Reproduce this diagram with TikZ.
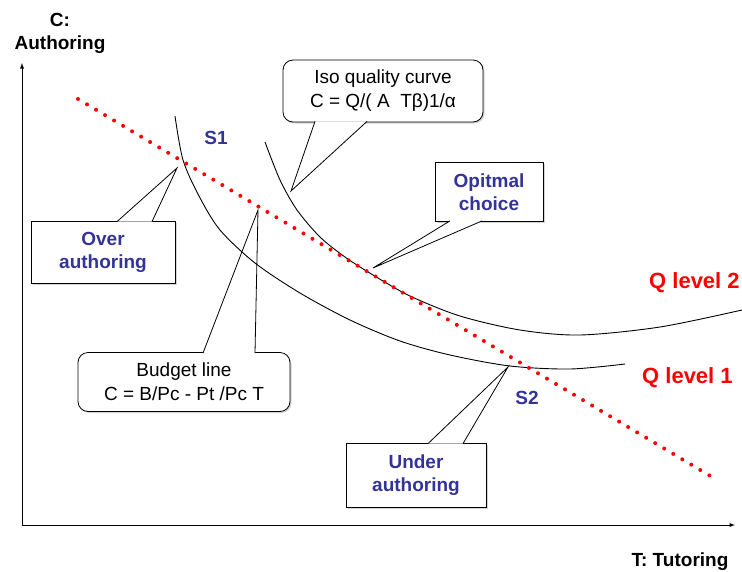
\documentclass[tikz,border=0pt]{standalone}
\usepackage{fontspec}
\setmainfont{Liberation Sans}
\usetikzlibrary{positioning, arrows.meta, calc, shadows}
\definecolor{labelblue}{RGB}{51,51,153}
\tikzset{
  axislabel/.style={font=\fontsize{19}{23}\selectfont\bfseries, align=center, inner sep=0pt},
  qlabel/.style={font=\fontsize{22}{26}\selectfont\bfseries, text=red, anchor=west, inner sep=0pt},
  slabel/.style={font=\fontsize{19}{23}\selectfont\bfseries, text=labelblue, inner sep=0pt},
  squarebox/.style={rectangle, draw=black, line width=0.8pt, fill=white, align=center, inner sep=0pt,
    font=\fontsize{19}{23}\selectfont\bfseries, text=labelblue,
    drop shadow={shadow xshift=1.5pt, shadow yshift=-1.5pt, opacity=0.35}},
  roundbox/.style={squarebox, rounded corners=10pt, font=\fontsize{19}{24}\selectfont, text=black},
  tail/.style={draw=black, line width=0.8pt, fill=white, line join=miter},
  isocurve/.style={line width=0.9pt},
  budgetdots/.style={red, line width=4pt, line cap=round, dash pattern=on 0pt off 10.5pt},
  axis/.style={line width=0.9pt, ->}
}

\begin{document}
\begin{tikzpicture}[x=1pt, y=-1pt, >=latex]
    \useasboundingbox (0,0) rectangle (742,571);

    % Cajas de texto
    \node[squarebox, minimum width=144pt, minimum height=62pt] (over) at (103,252) {Over\\authoring};
    \node[squarebox, minimum width=108pt, minimum height=59pt] (optimal) at (489,192) {Opitmal\\choice};
    \node[squarebox, minimum width=140pt, minimum height=64pt] (under) at (416,475) {Under\\authoring};
    \node[roundbox, minimum width=200pt, minimum height=62pt] (iso) at (383,91) {Iso quality curve\\C = Q/(~A~~Tβ)1/α};
    \node[roundbox, minimum width=212pt, minimum height=59pt] (budget) at (184,382) {Budget line\\C = B/Pc - Pt /Pc T};

    % Puntas de las llamadas
    \coordinate (overTip) at (177,168);
    \coordinate (optimalTip) at (373,268);
    \coordinate (underTip) at (508,367);
    \coordinate (isoTip) at (291,191);
    \coordinate (budgetTip) at (258,210);

    \draw[tail] ([xshift=14pt,yshift=-1pt]over.north) -- (overTip) -- ([xshift=49pt,yshift=-1pt]over.north);
    \draw[tail] ([xshift=-39pt,yshift=1pt]optimal.south) -- (optimalTip) -- ([xshift=-7pt,yshift=1pt]optimal.south);
    \draw[tail] ([xshift=12pt,yshift=-1pt]under.north) -- (underTip) -- ([xshift=47pt,yshift=-1pt]under.north);
    \draw[tail] ([xshift=-68pt,yshift=1pt]iso.south) -- (isoTip) -- ([xshift=-16pt,yshift=1pt]iso.south);
    \draw[tail] ([xshift=19pt,yshift=-1pt]budget.north) -- (budgetTip) -- ([xshift=71pt,yshift=-1pt]budget.north);

    % Curvas de isocalidad
    \draw[isocurve] plot[smooth] coordinates {(175,116) (183,160) (199,196) (220,230) (255,263) (300,293)
        (350,320) (400,341) (450,355) (510,366) (570,369) (625,364)};
    \draw[isocurve] plot[smooth] coordinates {(265,142) (280,180) (297,210) (320,237) (345,257) (373,275)
        (410,296) (460,316) (520,330) (580,335) (660,327) (742,310)};

    % Linea de presupuesto
    \coordinate (bStart) at (78,99);
    \coordinate (bEnd) at (712,477);
    \draw[budgetdots] (bStart) -- (bEnd);

    % Ejes
    \coordinate (O) at (22,525);
    \coordinate (yEnd) at (22,63);
    \coordinate (xEnd) at (735,525);
    \draw[axis] (O) -- (yEnd);
    \draw[axis] (O) -- (xEnd);

    % Etiquetas
    \node[axislabel] (cLabel) at (60,33) {C:\\Authoring};
    \node[axislabel] (tLabel) at (680,562) {T: Tutoring};
    \node[qlabel] (qTwo) at (649,283) {Q level 2};
    \node[qlabel] (qOne) at (642,378) {Q level 1};
    \node[slabel] (sOne) at (216,138) {S1};
    \node[slabel] (sTwo) at (527,398) {S2};

\end{tikzpicture}
\end{document}
